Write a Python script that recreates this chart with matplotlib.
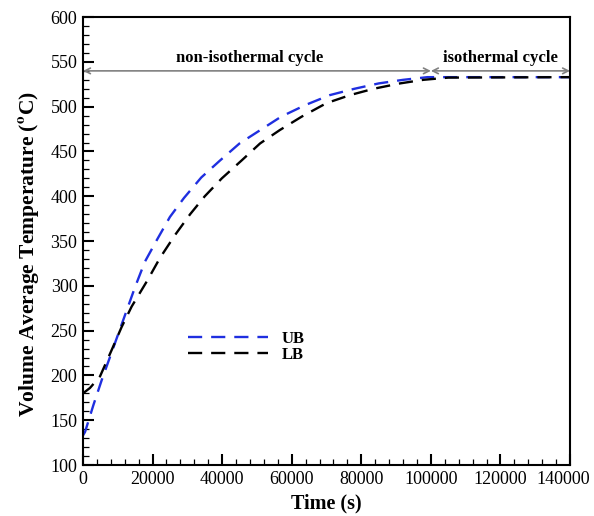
import matplotlib
matplotlib.use("Agg")
import matplotlib.pyplot as plt
from matplotlib.ticker import MultipleLocator, FuncFormatter

plt.rcParams['font.family'] = ['Liberation Serif', 'DejaVu Serif']
plt.rcParams['mathtext.fontset'] = 'stix'

# volume-averaged temperature, upper and lower bound
ub_time = [0, 600, 3000, 5400, 7800, 10200, 12600, 15000, 17800, 21200, 25000,
           29000, 34000, 39400, 45000, 51000, 57000, 64000, 71000, 78000,
           85000, 92000, 99000, 140000]
ub_temp = [133, 137, 167, 195, 221, 247, 273, 299, 327, 351, 377,
           398, 421, 440, 459, 474, 489, 502, 513, 520,
           526, 530, 533, 533]

lb_time = [0, 2000, 4900, 8200, 11100, 14000, 18500, 22100, 26500, 30800,
           35000, 39900, 45600, 50900, 56600, 62900, 70000, 76800, 83500,
           91100, 97800, 105000, 140000]
lb_temp = [180, 186, 199, 228, 254, 277, 306, 331, 357, 380,
           400, 420, 440, 459, 474, 489, 504, 513, 520,
           526, 530, 532.5, 533]

cycle_switch = 100000
t_end = 140000

fig = plt.figure(figsize=(5.94, 5.16), dpi=100)
ax = fig.add_axes([0.1397, 0.0988, 0.82, 0.868])

ax.plot(ub_time, ub_temp, color='#1f2fe0', lw=1.7, dashes=(6, 3.8), label='UB')
ax.plot(lb_time, lb_temp, color='black', lw=1.7, dashes=(6, 3.8), label='LB')

# cycle arrows
arrow = dict(arrowstyle='<->', color='gray', lw=1.2, shrinkA=0, shrinkB=0,
             mutation_scale=10)
ax.annotate('', xy=(0, 540), xytext=(cycle_switch, 540), arrowprops=arrow)
ax.annotate('', xy=(cycle_switch, 540), xytext=(t_end, 540), arrowprops=arrow)
ax.text(48000, 545, 'non-isothermal cycle', ha='center', va='bottom',
        fontsize=12, fontweight='bold')
ax.text(120000, 545, 'isothermal cycle', ha='center', va='bottom',
        fontsize=12, fontweight='bold')

ax.set_xlim(0, t_end)
ax.set_ylim(100, 600)
ax.xaxis.set_major_locator(MultipleLocator(20000))
ax.xaxis.set_minor_locator(MultipleLocator(4000))
ax.yaxis.set_major_locator(MultipleLocator(50))
ax.yaxis.set_minor_locator(MultipleLocator(10))
ax.tick_params(which='both', direction='in', top=False, right=False,
               labelsize=13, pad=4)
ax.tick_params(which='major', length=8, width=1.5)
ax.tick_params(which='minor', length=4.5, width=0.9)
for s in ax.spines.values():
    s.set_linewidth(1.5)

# last x label drawn separately, nudged left so it stays inside the figure
ax.xaxis.set_major_formatter(
    FuncFormatter(lambda v, p: '' if v >= t_end else f'{v:.0f}'))
ax.annotate(f'{t_end}', xy=(t_end, 0), xycoords=('data', 'axes fraction'),
            xytext=(-5, -4), textcoords='offset points',
            ha='center', va='top', fontsize=13)

ax.set_xlabel('Time (s)', fontsize=14.5, fontweight='bold', labelpad=4)
ax.set_ylabel(r'Volume Average Temperature ($\mathbf{^{o}}$C)', fontsize=15.5,
              fontweight='bold', labelpad=6, y=0.47)

ax.legend(loc='upper left', bbox_to_anchor=(0.2156, 0.300), frameon=False,
          borderpad=0, borderaxespad=0, handlelength=4.8, handletextpad=0.8,
          prop={'weight': 'bold', 'size': 12}, labelspacing=0.0)

fig.savefig('out.png')
